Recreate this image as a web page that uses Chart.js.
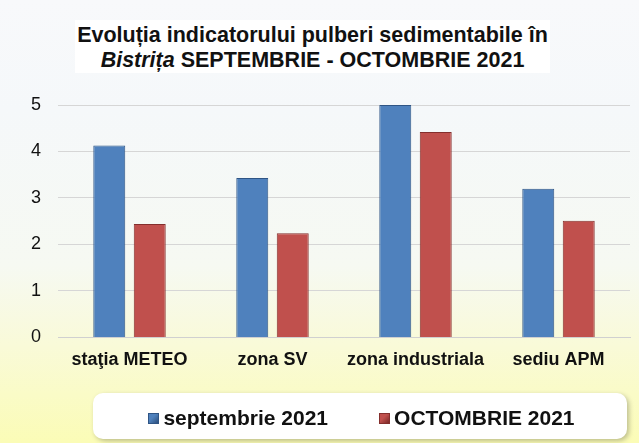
<!DOCTYPE html>
<html>
<head>
<meta charset="utf-8">
<script src="https://cdn.jsdelivr.net/npm/chart.js@4"></script>
<style>
    html, body {
        margin: 0;
        padding: 0;
        width: 639px;
        height: 443px;
        overflow: hidden;
    }
    body {
        background: linear-gradient(to bottom, #f8f9fb 0%, #f5f8fa 25%, #f6f9f2 60%, #f9fad8 78%, #fbfcb6 100%);
        font-family: "Liberation Sans", Arial, sans-serif;
        position: relative;
    }
    #title {
        position: absolute;
        left: 75px;
        top: 20px;
        width: 475px;
        height: 53px;
        padding-top: 3px;
        box-sizing: border-box;
        background: #ffffff;
        text-align: center;
        font-weight: bold;
        font-size: 21.5px;
        line-height: 25px;
        color: #111;
    }
    #wrap {
        position: absolute;
        left: 0;
        top: 0;
        width: 639px;
        height: 443px;
    }
    #legend {
        position: absolute;
        left: 93px;
        top: 393px;
        width: 534px;
        height: 46px;
        background: #ffffff;
        border-radius: 10px;
        box-shadow: 2px 2px 5px rgba(0, 0, 0, 0.25);
        display: flex;
        justify-content: center;
        align-items: center;
        gap: 51px;
        padding-left: 3px;
        padding-top: 4px;
        box-sizing: border-box;
        font-weight: bold;
        font-size: 21px;
        color: #111;
    }
    #legend span.item {
        display: flex;
        align-items: center;
        gap: 4px;
    }
    #legend span.box {
        display: inline-block;
        width: 11px;
        height: 11px;
        box-sizing: border-box;
    }
</style>
</head>
<body>
<div id="title">Evoluția indicatorului pulberi sedimentabile în<br><i>Bistrița</i> SEPTEMBRIE - OCTOMBRIE 2021</div>
<div id="wrap"><canvas id="chart"></canvas></div>
<div id="legend"></div>
<script>
// Data
const locations = ["staţia METEO", "zona SV", "zona industriala", "sediu APM"];
const septembrie = [4.13, 3.43, 5.0, 3.2];
const octombrie = [2.44, 2.24, 4.42, 2.51];
const yTicks = [0, 1, 2, 3, 4, 5];

const seriesColors = [
    { mid: "#4f81bd", dark: "#2c4f7c", border: "#2f5585" },
    { mid: "#c0504d", dark: "#7a2826", border: "#842f2d" }
];

// Horizontal shading so bars look a bit like the 3D ones
function barShade(context, mid, dark) {
    const el = context.element;
    const chart = context.chart;
    if (!el || !chart.chartArea || !Number.isFinite(el.x) || !Number.isFinite(el.width)) return mid;
    const half = el.width / 2;
    const g = chart.ctx.createLinearGradient(el.x - half, 0, el.x + half, 0);
    g.addColorStop(0, dark);
    g.addColorStop(0.12, mid);
    g.addColorStop(0.8, mid);
    g.addColorStop(1, dark);
    return g;
}

// HTML legend built from the chart datasets
const htmlLegend = {
    id: "htmlLegend",
    afterUpdate(chart) {
        const box = document.getElementById("legend");
        box.innerHTML = "";
        chart.data.datasets.forEach((ds, i) => {
            const item = document.createElement("span");
            item.className = "item";
            const sq = document.createElement("span");
            sq.className = "box";
            sq.style.background = `linear-gradient(135deg, ${seriesColors[i].mid} 40%, ${seriesColors[i].dark})`;
            sq.style.border = `1px solid ${seriesColors[i].border}`;
            const txt = document.createElement("span");
            txt.textContent = ds.label;
            item.appendChild(sq);
            item.appendChild(txt);
            box.appendChild(item);
        });
    }
};

new Chart(document.getElementById("chart"), {
    type: "bar",
    data: {
        labels: locations,
        datasets: [{
            label: "septembrie 2021",
            data: septembrie,
            backgroundColor: ctx => barShade(ctx, seriesColors[0].mid, seriesColors[0].dark),
            borderColor: seriesColors[0].border,
            borderWidth: 1,
            categoryPercentage: 0.566,
            barPercentage: 0.79
        }, {
            label: "OCTOMBRIE 2021",
            data: octombrie,
            backgroundColor: ctx => barShade(ctx, seriesColors[1].mid, seriesColors[1].dark),
            borderColor: seriesColors[1].border,
            borderWidth: 1,
            categoryPercentage: 0.566,
            barPercentage: 0.79
        }]
    },
    options: {
        responsive: true,
        maintainAspectRatio: false,
        animation: false,
        layout: {
            padding: { top: 105, right: 9, left: 14, bottom: 68 }
        },
        scales: {
            x: {
                grid: { display: false },
                border: { color: "#d0d0d0" },
                afterFit: axis => {
                    // labels sit inside their categories, no extra side room needed
                    axis.paddingLeft = 0;
                    axis.paddingRight = 0;
                },
                ticks: {
                    color: "#111",
                    padding: 4,
                    maxRotation: 0,
                    minRotation: 0,
                    autoSkip: false,
                    font: { family: "Liberation Sans", size: 18, weight: "bold" }
                }
            },
            y: {
                min: 0,
                max: 5,
                afterBuildTicks: axis => {
                    axis.ticks = yTicks.map(v => ({ value: v }));
                },
                grid: { color: "#d6d6d6", drawTicks: false },
                border: { display: false },
                ticks: {
                    color: "#111",
                    padding: 17,
                    font: { family: "Liberation Sans", size: 18 }
                }
            }
        },
        plugins: {
            legend: { display: false },
            tooltip: { enabled: false }
        }
    },
    plugins: [htmlLegend]
});
</script>
</body>
</html>
